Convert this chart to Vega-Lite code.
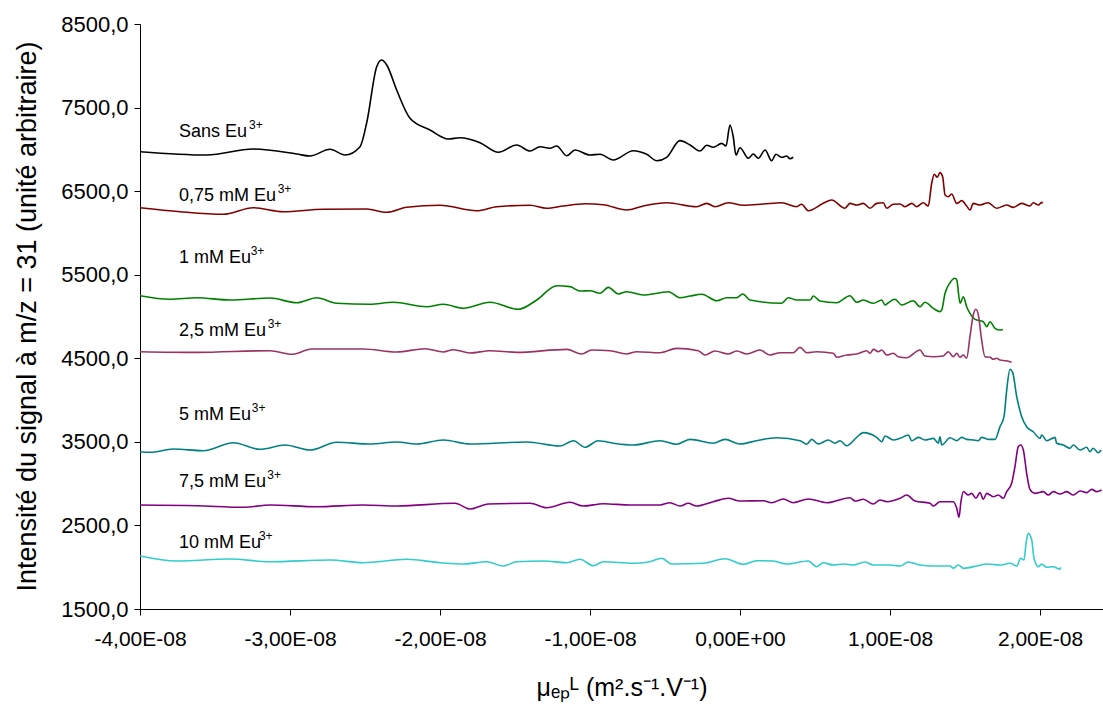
{
  "$schema": "https://vega.github.io/schema/vega-lite/v6.json",
  "width": 963,
  "height": 585,
  "autosize": {"type": "none"},
  "padding": {"left": 140, "top": 24, "right": 0, "bottom": 97},
  "background": "white",
  "config": {
    "view": {"stroke": null},
    "font": "Liberation Sans",
    "axis": {"grid": false, "domainColor": "#000000", "tickColor": "#000000", "labelColor": "#000000", "titleColor": "#000000", "labelFont": "Liberation Sans", "titleFont": "Liberation Sans", "titleFontWeight": "normal", "domainWidth": 1, "tickWidth": 1, "labelFlush": false, "labelOverlap": false}
  },
  "datasets": {
    "curves": [
      {"c":"0","x":-4.000,"y":6972},{"c":"0","x":-3.555,"y":6932},{"c":"0","x":-3.247,"y":7004},{"c":"0","x":-2.955,"y":6944},{"c":"0","x":-2.867,"y":6920},{"c":"0","x":-2.733,"y":7001},{"c":"0","x":-2.633,"y":6932},{"c":"0","x":-2.533,"y":7032},{"c":"0","x":-2.489,"y":7315},{"c":"0","x":-2.422,"y":7989},{"c":"0","x":-2.389,"y":8069},{"c":"0","x":-2.355,"y":8009},{"c":"0","x":-2.289,"y":7710},{"c":"0","x":-2.200,"y":7372},{"c":"0","x":-2.067,"y":7232},{"c":"0","x":-1.945,"y":7124},{"c":"0","x":-1.867,"y":7139},{"c":"0","x":-1.733,"y":7080},{"c":"0","x":-1.611,"y":6965},{"c":"0","x":-1.489,"y":7052},{"c":"0","x":-1.400,"y":6980},{"c":"0","x":-1.333,"y":7032},{"c":"0","x":-1.267,"y":7013},{"c":"0","x":-1.222,"y":7040},{"c":"0","x":-1.155,"y":6924},{"c":"0","x":-1.100,"y":6992},{"c":"0","x":-1.000,"y":6932},{"c":"0","x":-0.933,"y":6941},{"c":"0","x":-0.845,"y":6873},{"c":"0","x":-0.711,"y":6984},{"c":"0","x":-0.622,"y":6941},{"c":"0","x":-0.555,"y":6864},{"c":"0","x":-0.489,"y":6905},{"c":"0","x":-0.400,"y":7104},{"c":"0","x":-0.333,"y":7052},{"c":"0","x":-0.267,"y":6980},{"c":"0","x":-0.222,"y":7049},{"c":"0","x":-0.178,"y":7025},{"c":"0","x":-0.122,"y":7072},{"c":"0","x":-0.093,"y":7040},{"c":"0","x":-0.067,"y":7291},{"c":"0","x":-0.045,"y":7151},{"c":"0","x":-0.027,"y":6932},{"c":"0","x":0.000,"y":7020},{"c":"0","x":0.055,"y":6893},{"c":"0","x":0.089,"y":6944},{"c":"0","x":0.122,"y":6893},{"c":"0","x":0.167,"y":6992},{"c":"0","x":0.211,"y":6864},{"c":"0","x":0.240,"y":6941},{"c":"0","x":0.278,"y":6905},{"c":"0","x":0.311,"y":6920},{"c":"0","x":0.333,"y":6888},{"c":"0","x":0.355,"y":6905},

      {"c":"0.75","x":-4.000,"y":6302},{"c":"0.75","x":-3.733,"y":6254},{"c":"0.75","x":-3.445,"y":6223},{"c":"0.75","x":-3.245,"y":6302},{"c":"0.75","x":-3.045,"y":6254},{"c":"0.75","x":-2.778,"y":6283},{"c":"0.75","x":-2.489,"y":6286},{"c":"0.75","x":-2.355,"y":6247},{"c":"0.75","x":-2.222,"y":6307},{"c":"0.75","x":-2.000,"y":6331},{"c":"0.75","x":-1.755,"y":6266},{"c":"0.75","x":-1.622,"y":6314},{"c":"0.75","x":-1.400,"y":6331},{"c":"0.75","x":-1.289,"y":6295},{"c":"0.75","x":-1.178,"y":6322},{"c":"0.75","x":-1.033,"y":6350},{"c":"0.75","x":-0.911,"y":6338},{"c":"0.75","x":-0.755,"y":6274},{"c":"0.75","x":-0.645,"y":6322},{"c":"0.75","x":-0.489,"y":6362},{"c":"0.75","x":-0.289,"y":6314},{"c":"0.75","x":-0.222,"y":6354},{"c":"0.75","x":-0.167,"y":6314},{"c":"0.75","x":-0.078,"y":6362},{"c":"0.75","x":0.022,"y":6331},{"c":"0.75","x":0.155,"y":6346},{"c":"0.75","x":0.278,"y":6362},{"c":"0.75","x":0.378,"y":6314},{"c":"0.75","x":0.411,"y":6343},{"c":"0.75","x":0.455,"y":6266},{"c":"0.75","x":0.555,"y":6354},{"c":"0.75","x":0.611,"y":6394},{"c":"0.75","x":0.700,"y":6295},{"c":"0.75","x":0.733,"y":6354},{"c":"0.75","x":0.778,"y":6334},{"c":"0.75","x":0.822,"y":6354},{"c":"0.75","x":0.867,"y":6295},{"c":"0.75","x":0.911,"y":6354},{"c":"0.75","x":0.955,"y":6362},{"c":"0.75","x":0.978,"y":6295},{"c":"0.75","x":1.022,"y":6343},{"c":"0.75","x":1.067,"y":6346},{"c":"0.75","x":1.100,"y":6314},{"c":"0.75","x":1.145,"y":6354},{"c":"0.75","x":1.178,"y":6314},{"c":"0.75","x":1.222,"y":6362},{"c":"0.75","x":1.255,"y":6322},{"c":"0.75","x":1.278,"y":6594},{"c":"0.75","x":1.295,"y":6702},{"c":"0.75","x":1.315,"y":6666},{"c":"0.75","x":1.333,"y":6721},{"c":"0.75","x":1.351,"y":6673},{"c":"0.75","x":1.367,"y":6454},{"c":"0.75","x":1.389,"y":6433},{"c":"0.75","x":1.411,"y":6466},{"c":"0.75","x":1.445,"y":6354},{"c":"0.75","x":1.478,"y":6386},{"c":"0.75","x":1.511,"y":6322},{"c":"0.75","x":1.533,"y":6274},{"c":"0.75","x":1.555,"y":6354},{"c":"0.75","x":1.600,"y":6334},{"c":"0.75","x":1.655,"y":6362},{"c":"0.75","x":1.711,"y":6295},{"c":"0.75","x":1.778,"y":6334},{"c":"0.75","x":1.822,"y":6306},{"c":"0.75","x":1.878,"y":6354},{"c":"0.75","x":1.933,"y":6322},{"c":"0.75","x":1.955,"y":6362},{"c":"0.75","x":1.989,"y":6334},{"c":"0.75","x":2.011,"y":6366},{"c":"0.75","x":2.018,"y":6354},

      {"c":"1","x":-4.000,"y":5249},{"c":"1","x":-3.800,"y":5206},{"c":"1","x":-3.622,"y":5225},{"c":"1","x":-3.400,"y":5197},{"c":"1","x":-3.133,"y":5221},{"c":"1","x":-2.955,"y":5165},{"c":"1","x":-2.822,"y":5225},{"c":"1","x":-2.689,"y":5158},{"c":"1","x":-2.467,"y":5146},{"c":"1","x":-2.311,"y":5170},{"c":"1","x":-2.089,"y":5117},{"c":"1","x":-1.978,"y":5146},{"c":"1","x":-1.845,"y":5098},{"c":"1","x":-1.667,"y":5170},{"c":"1","x":-1.478,"y":5086},{"c":"1","x":-1.355,"y":5197},{"c":"1","x":-1.222,"y":5368},{"c":"1","x":-1.133,"y":5357},{"c":"1","x":-1.067,"y":5305},{"c":"1","x":-1.000,"y":5309},{"c":"1","x":-0.933,"y":5278},{"c":"1","x":-0.878,"y":5349},{"c":"1","x":-0.811,"y":5269},{"c":"1","x":-0.755,"y":5297},{"c":"1","x":-0.645,"y":5257},{"c":"1","x":-0.533,"y":5285},{"c":"1","x":-0.478,"y":5297},{"c":"1","x":-0.400,"y":5225},{"c":"1","x":-0.333,"y":5245},{"c":"1","x":-0.255,"y":5266},{"c":"1","x":-0.155,"y":5189},{"c":"1","x":-0.089,"y":5225},{"c":"1","x":-0.022,"y":5225},{"c":"1","x":0.018,"y":5269},{"c":"1","x":0.067,"y":5197},{"c":"1","x":0.278,"y":5158},{"c":"1","x":0.322,"y":5225},{"c":"1","x":0.378,"y":5197},{"c":"1","x":0.467,"y":5197},{"c":"1","x":0.489,"y":5245},{"c":"1","x":0.533,"y":5185},{"c":"1","x":0.645,"y":5165},{"c":"1","x":0.733,"y":5249},{"c":"1","x":0.778,"y":5170},{"c":"1","x":0.822,"y":5197},{"c":"1","x":0.889,"y":5158},{"c":"1","x":0.945,"y":5197},{"c":"1","x":0.967,"y":5138},{"c":"1","x":0.989,"y":5165},{"c":"1","x":1.033,"y":5206},{"c":"1","x":1.078,"y":5138},{"c":"1","x":1.155,"y":5189},{"c":"1","x":1.200,"y":5117},{"c":"1","x":1.233,"y":5170},{"c":"1","x":1.289,"y":5098},{"c":"1","x":1.333,"y":5057},{"c":"1","x":1.345,"y":5078},{"c":"1","x":1.367,"y":5278},{"c":"1","x":1.400,"y":5404},{"c":"1","x":1.433,"y":5457},{"c":"1","x":1.445,"y":5437},{"c":"1","x":1.467,"y":5158},{"c":"1","x":1.489,"y":5237},{"c":"1","x":1.511,"y":5117},{"c":"1","x":1.533,"y":5038},{"c":"1","x":1.567,"y":4966},{"c":"1","x":1.622,"y":4938},{"c":"1","x":1.645,"y":4878},{"c":"1","x":1.667,"y":4938},{"c":"1","x":1.700,"y":4859},{"c":"1","x":1.733,"y":4838},{"c":"1","x":1.753,"y":4845},

      {"c":"2.5","x":-4.000,"y":4579},{"c":"2.5","x":-3.622,"y":4571},{"c":"2.5","x":-3.133,"y":4591},{"c":"2.5","x":-2.989,"y":4548},{"c":"2.5","x":-2.855,"y":4611},{"c":"2.5","x":-2.511,"y":4611},{"c":"2.5","x":-2.289,"y":4575},{"c":"2.5","x":-2.100,"y":4615},{"c":"2.5","x":-1.978,"y":4575},{"c":"2.5","x":-1.911,"y":4603},{"c":"2.5","x":-1.800,"y":4563},{"c":"2.5","x":-1.667,"y":4591},{"c":"2.5","x":-1.489,"y":4571},{"c":"2.5","x":-1.155,"y":4607},{"c":"2.5","x":-1.055,"y":4551},{"c":"2.5","x":-0.989,"y":4599},{"c":"2.5","x":-0.867,"y":4591},{"c":"2.5","x":-0.755,"y":4551},{"c":"2.5","x":-0.689,"y":4579},{"c":"2.5","x":-0.533,"y":4567},{"c":"2.5","x":-0.422,"y":4619},{"c":"2.5","x":-0.278,"y":4591},{"c":"2.5","x":-0.233,"y":4539},{"c":"2.5","x":-0.167,"y":4587},{"c":"2.5","x":-0.078,"y":4551},{"c":"2.5","x":-0.022,"y":4587},{"c":"2.5","x":0.045,"y":4551},{"c":"2.5","x":0.133,"y":4599},{"c":"2.5","x":0.200,"y":4539},{"c":"2.5","x":0.267,"y":4567},{"c":"2.5","x":0.355,"y":4567},{"c":"2.5","x":0.400,"y":4631},{"c":"2.5","x":0.445,"y":4567},{"c":"2.5","x":0.511,"y":4579},{"c":"2.5","x":0.622,"y":4560},{"c":"2.5","x":0.645,"y":4512},{"c":"2.5","x":0.711,"y":4539},{"c":"2.5","x":0.778,"y":4551},{"c":"2.5","x":0.845,"y":4591},{"c":"2.5","x":0.867,"y":4560},{"c":"2.5","x":0.889,"y":4607},{"c":"2.5","x":0.922,"y":4579},{"c":"2.5","x":0.945,"y":4599},{"c":"2.5","x":0.978,"y":4539},{"c":"2.5","x":1.022,"y":4560},{"c":"2.5","x":1.055,"y":4519},{"c":"2.5","x":1.111,"y":4507},{"c":"2.5","x":1.200,"y":4599},{"c":"2.5","x":1.233,"y":4527},{"c":"2.5","x":1.289,"y":4519},{"c":"2.5","x":1.355,"y":4527},{"c":"2.5","x":1.389,"y":4579},{"c":"2.5","x":1.422,"y":4519},{"c":"2.5","x":1.445,"y":4560},{"c":"2.5","x":1.467,"y":4512},{"c":"2.5","x":1.489,"y":4539},{"c":"2.5","x":1.511,"y":4500},{"c":"2.5","x":1.533,"y":4758},{"c":"2.5","x":1.555,"y":5018},{"c":"2.5","x":1.573,"y":5086},{"c":"2.5","x":1.589,"y":5018},{"c":"2.5","x":1.611,"y":4719},{"c":"2.5","x":1.633,"y":4519},{"c":"2.5","x":1.667,"y":4512},{"c":"2.5","x":1.689,"y":4488},{"c":"2.5","x":1.711,"y":4500},{"c":"2.5","x":1.733,"y":4479},{"c":"2.5","x":1.773,"y":4470},{"c":"2.5","x":1.811,"y":4452},

      {"c":"5","x":-4.000,"y":3382},{"c":"5","x":-3.933,"y":3375},{"c":"5","x":-3.778,"y":3414},{"c":"5","x":-3.578,"y":3394},{"c":"5","x":-3.378,"y":3490},{"c":"5","x":-3.200,"y":3411},{"c":"5","x":-3.033,"y":3462},{"c":"5","x":-2.867,"y":3402},{"c":"5","x":-2.689,"y":3495},{"c":"5","x":-2.467,"y":3474},{"c":"5","x":-2.289,"y":3498},{"c":"5","x":-2.155,"y":3474},{"c":"5","x":-1.978,"y":3522},{"c":"5","x":-1.800,"y":3474},{"c":"5","x":-1.422,"y":3498},{"c":"5","x":-1.200,"y":3450},{"c":"5","x":-1.111,"y":3514},{"c":"5","x":-1.033,"y":3435},{"c":"5","x":-0.945,"y":3514},{"c":"5","x":-0.833,"y":3480},{"c":"5","x":-0.711,"y":3462},{"c":"5","x":-0.533,"y":3514},{"c":"5","x":-0.422,"y":3471},{"c":"5","x":-0.333,"y":3530},{"c":"5","x":-0.178,"y":3483},{"c":"5","x":-0.100,"y":3530},{"c":"5","x":0.000,"y":3474},{"c":"5","x":0.111,"y":3514},{"c":"5","x":0.245,"y":3550},{"c":"5","x":0.400,"y":3514},{"c":"5","x":0.445,"y":3471},{"c":"5","x":0.478,"y":3530},{"c":"5","x":0.522,"y":3474},{"c":"5","x":0.589,"y":3522},{"c":"5","x":0.633,"y":3483},{"c":"5","x":0.667,"y":3514},{"c":"5","x":0.711,"y":3454},{"c":"5","x":0.778,"y":3554},{"c":"5","x":0.822,"y":3610},{"c":"5","x":0.911,"y":3554},{"c":"5","x":0.945,"y":3502},{"c":"5","x":0.967,"y":3570},{"c":"5","x":1.022,"y":3522},{"c":"5","x":1.067,"y":3542},{"c":"5","x":1.122,"y":3582},{"c":"5","x":1.145,"y":3514},{"c":"5","x":1.189,"y":3554},{"c":"5","x":1.233,"y":3522},{"c":"5","x":1.289,"y":3542},{"c":"5","x":1.322,"y":3483},{"c":"5","x":1.333,"y":3562},{"c":"5","x":1.345,"y":3462},{"c":"5","x":1.400,"y":3550},{"c":"5","x":1.445,"y":3514},{"c":"5","x":1.478,"y":3554},{"c":"5","x":1.511,"y":3530},{"c":"5","x":1.555,"y":3522},{"c":"5","x":1.589,"y":3514},{"c":"5","x":1.611,"y":3554},{"c":"5","x":1.655,"y":3530},{"c":"5","x":1.700,"y":3530},{"c":"5","x":1.733,"y":3681},{"c":"5","x":1.760,"y":3801},{"c":"5","x":1.778,"y":4120},{"c":"5","x":1.800,"y":4368},{"c":"5","x":1.818,"y":4328},{"c":"5","x":1.845,"y":4040},{"c":"5","x":1.878,"y":3801},{"c":"5","x":1.911,"y":3681},{"c":"5","x":1.955,"y":3621},{"c":"5","x":2.000,"y":3542},{"c":"5","x":2.011,"y":3582},{"c":"5","x":2.045,"y":3514},{"c":"5","x":2.100,"y":3554},{"c":"5","x":2.111,"y":3483},{"c":"5","x":2.155,"y":3462},{"c":"5","x":2.200,"y":3423},{"c":"5","x":2.222,"y":3462},{"c":"5","x":2.267,"y":3402},{"c":"5","x":2.311,"y":3435},{"c":"5","x":2.333,"y":3382},{"c":"5","x":2.355,"y":3423},{"c":"5","x":2.389,"y":3370},{"c":"5","x":2.407,"y":3402},

      {"c":"7.5","x":-4.000,"y":2744},{"c":"7.5","x":-3.622,"y":2736},{"c":"7.5","x":-3.311,"y":2717},{"c":"7.5","x":-3.133,"y":2744},{"c":"7.5","x":-2.822,"y":2724},{"c":"7.5","x":-2.511,"y":2744},{"c":"7.5","x":-2.289,"y":2732},{"c":"7.5","x":-1.900,"y":2765},{"c":"7.5","x":-1.800,"y":2696},{"c":"7.5","x":-1.678,"y":2756},{"c":"7.5","x":-1.400,"y":2765},{"c":"7.5","x":-1.289,"y":2712},{"c":"7.5","x":-1.133,"y":2777},{"c":"7.5","x":-1.045,"y":2732},{"c":"7.5","x":-0.911,"y":2760},{"c":"7.5","x":-0.733,"y":2744},{"c":"7.5","x":-0.533,"y":2744},{"c":"7.5","x":-0.467,"y":2772},{"c":"7.5","x":-0.400,"y":2732},{"c":"7.5","x":-0.345,"y":2765},{"c":"7.5","x":-0.289,"y":2732},{"c":"7.5","x":-0.178,"y":2784},{"c":"7.5","x":-0.078,"y":2825},{"c":"7.5","x":0.000,"y":2792},{"c":"7.5","x":0.155,"y":2796},{"c":"7.5","x":0.211,"y":2772},{"c":"7.5","x":0.289,"y":2816},{"c":"7.5","x":0.355,"y":2772},{"c":"7.5","x":0.455,"y":2816},{"c":"7.5","x":0.578,"y":2772},{"c":"7.5","x":0.733,"y":2832},{"c":"7.5","x":0.767,"y":2792},{"c":"7.5","x":0.822,"y":2813},{"c":"7.5","x":0.889,"y":2756},{"c":"7.5","x":0.933,"y":2804},{"c":"7.5","x":0.978,"y":2784},{"c":"7.5","x":1.067,"y":2825},{"c":"7.5","x":1.111,"y":2864},{"c":"7.5","x":1.167,"y":2792},{"c":"7.5","x":1.267,"y":2765},{"c":"7.5","x":1.289,"y":2732},{"c":"7.5","x":1.333,"y":2784},{"c":"7.5","x":1.422,"y":2784},{"c":"7.5","x":1.445,"y":2705},{"c":"7.5","x":1.460,"y":2597},{"c":"7.5","x":1.473,"y":2784},{"c":"7.5","x":1.489,"y":2904},{"c":"7.5","x":1.522,"y":2864},{"c":"7.5","x":1.545,"y":2884},{"c":"7.5","x":1.573,"y":2825},{"c":"7.5","x":1.600,"y":2892},{"c":"7.5","x":1.622,"y":2813},{"c":"7.5","x":1.645,"y":2884},{"c":"7.5","x":1.689,"y":2844},{"c":"7.5","x":1.722,"y":2864},{"c":"7.5","x":1.755,"y":2825},{"c":"7.5","x":1.778,"y":2904},{"c":"7.5","x":1.811,"y":3004},{"c":"7.5","x":1.833,"y":3203},{"c":"7.5","x":1.855,"y":3442},{"c":"7.5","x":1.871,"y":3462},{"c":"7.5","x":1.889,"y":3402},{"c":"7.5","x":1.911,"y":3124},{"c":"7.5","x":1.933,"y":2932},{"c":"7.5","x":1.967,"y":2884},{"c":"7.5","x":2.022,"y":2904},{"c":"7.5","x":2.055,"y":2864},{"c":"7.5","x":2.089,"y":2904},{"c":"7.5","x":2.133,"y":2876},{"c":"7.5","x":2.178,"y":2904},{"c":"7.5","x":2.222,"y":2864},{"c":"7.5","x":2.267,"y":2912},{"c":"7.5","x":2.311,"y":2892},{"c":"7.5","x":2.345,"y":2932},{"c":"7.5","x":2.378,"y":2904},{"c":"7.5","x":2.411,"y":2924},

      {"c":"10","x":-4.000,"y":2134},{"c":"10","x":-3.755,"y":2074},{"c":"10","x":-3.400,"y":2098},{"c":"10","x":-3.133,"y":2066},{"c":"10","x":-2.733,"y":2086},{"c":"10","x":-2.511,"y":2054},{"c":"10","x":-2.222,"y":2095},{"c":"10","x":-2.000,"y":2054},{"c":"10","x":-1.845,"y":2038},{"c":"10","x":-1.689,"y":2066},{"c":"10","x":-1.578,"y":2014},{"c":"10","x":-1.489,"y":2066},{"c":"10","x":-1.311,"y":2074},{"c":"10","x":-1.155,"y":2054},{"c":"10","x":-1.067,"y":2095},{"c":"10","x":-0.978,"y":2018},{"c":"10","x":-0.911,"y":2066},{"c":"10","x":-0.711,"y":2047},{"c":"10","x":-0.600,"y":2066},{"c":"10","x":-0.522,"y":2107},{"c":"10","x":-0.455,"y":2038},{"c":"10","x":-0.245,"y":2047},{"c":"10","x":-0.100,"y":2102},{"c":"10","x":0.022,"y":2035},{"c":"10","x":0.111,"y":2078},{"c":"10","x":0.222,"y":2074},{"c":"10","x":0.311,"y":2038},{"c":"10","x":0.455,"y":2074},{"c":"10","x":0.511,"y":2006},{"c":"10","x":0.555,"y":2054},{"c":"10","x":0.622,"y":2026},{"c":"10","x":0.689,"y":2038},{"c":"10","x":0.755,"y":2026},{"c":"10","x":0.833,"y":2062},{"c":"10","x":0.889,"y":2026},{"c":"10","x":1.000,"y":2026},{"c":"10","x":1.067,"y":2014},{"c":"10","x":1.122,"y":2062},{"c":"10","x":1.200,"y":2026},{"c":"10","x":1.289,"y":2014},{"c":"10","x":1.400,"y":2014},{"c":"10","x":1.422,"y":1987},{"c":"10","x":1.455,"y":2026},{"c":"10","x":1.489,"y":1987},{"c":"10","x":1.578,"y":2014},{"c":"10","x":1.645,"y":2038},{"c":"10","x":1.733,"y":2026},{"c":"10","x":1.800,"y":2047},{"c":"10","x":1.845,"y":2014},{"c":"10","x":1.871,"y":2107},{"c":"10","x":1.893,"y":2086},{"c":"10","x":1.907,"y":2286},{"c":"10","x":1.922,"y":2406},{"c":"10","x":1.945,"y":2326},{"c":"10","x":1.960,"y":2107},{"c":"10","x":1.989,"y":2006},{"c":"10","x":2.011,"y":2038},{"c":"10","x":2.045,"y":1999},{"c":"10","x":2.089,"y":2006},{"c":"10","x":2.133,"y":1975},{"c":"10","x":2.138,"y":1999}
    ],
    "labels": [
      {"label":"Sans Eu","x":-3.74,"xs":-3.273,"y":7151},
      {"label":"0,75 mM Eu","x":-3.74,"xs":-3.082,"y":6386},
      {"label":"1 mM Eu","x":-3.74,"xs":-3.262,"y":5640},
      {"label":"2,5 mM Eu","x":-3.74,"xs":-3.149,"y":4767},
      {"label":"5 mM Eu","x":-3.74,"xs":-3.255,"y":3761},
      {"label":"7,5 mM Eu","x":-3.74,"xs":-3.151,"y":2960},
      {"label":"10 mM Eu","x":-3.74,"xs":-3.207,"y":2230}
    ]
  },
  "layer": [
    {
      "data": {"name": "curves"},
      "mark": {"type": "line", "interpolate": "monotone", "strokeWidth": 1.6, "clip": true},
      "encoding": {
        "x": {"field": "x", "type": "quantitative",
          "scale": {"domain": [-4, 2.42], "nice": false, "zero": false},
          "axis": {"values": [-4, -3, -2, -1, 0, 1, 2], "labelExpr": "datum.value == 0 ? '0,00E+00' : (datum.value < 0 ? '-' : '') + replace(format(abs(datum.value), '.2f'), '.', ',') + 'E-08'", "labelFontSize": 21, "tickSize": 6, "labelPadding": 13, "title": "μₑₚᴸ (m².s⁻¹.V⁻¹)", "titleFontSize": 25, "titlePadding": 26}},
        "y": {"field": "y", "type": "quantitative",
          "scale": {"domain": [1500, 8500], "nice": false, "zero": false},
          "axis": {"values": [1500, 2500, 3500, 4500, 5500, 6500, 7500, 8500], "labelExpr": "replace(format(datum.value, '.1f'), '.', ',')", "labelFontSize": 22, "tickSize": 6, "labelPadding": 6, "title": "Intensité du signal à m/z = 31 (unité arbitraire)", "titleFontSize": 27, "titleX": -113, "titleY": 292, "titleAngle": -90, "titleAlign": "center", "titleBaseline": "middle"}},
        "color": {"field": "c", "type": "nominal", "legend": null,
          "scale": {"domain": ["0", "0.75", "1", "2.5", "5", "7.5", "10"], "range": ["#000000", "#800000", "#008000", "#993366", "#008080", "#800080", "#33CCCC"]}}
      }
    },
    {
      "data": {"name": "labels"},
      "mark": {"type": "text", "align": "left", "baseline": "alphabetic", "fontSize": 18, "font": "Liberation Sans", "color": "#000000"},
      "encoding": {
        "x": {"field": "x", "type": "quantitative"},
        "y": {"field": "y", "type": "quantitative"},
        "text": {"field": "label"}
      }
    },
    {
      "data": {"name": "labels"},
      "mark": {"type": "text", "align": "left", "baseline": "alphabetic", "fontSize": 12, "dy": -8, "font": "Liberation Sans", "color": "#000000"},
      "encoding": {
        "x": {"field": "xs", "type": "quantitative"},
        "y": {"field": "y", "type": "quantitative"},
        "text": {"value": "3+"}
      }
    }
  ]
}
